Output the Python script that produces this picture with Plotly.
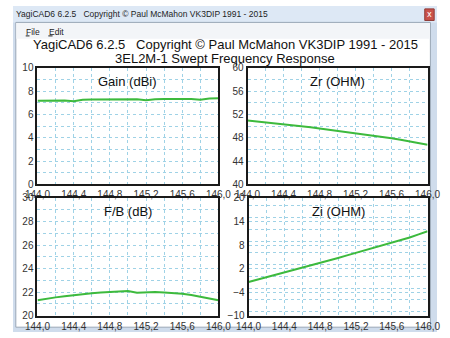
import plotly.graph_objects as go

W, H = 450, 338

freq = [144.0, 144.1, 144.2, 144.3, 144.4, 144.5, 144.6, 144.7, 144.8, 144.9, 145.0,
        145.1, 145.2, 145.3, 145.4, 145.5, 145.6, 145.7, 145.8, 145.9, 146.0]
gain = [7.18, 7.19, 7.2, 7.2, 7.12, 7.26, 7.27, 7.28, 7.28, 7.28, 7.29,
        7.29, 7.22, 7.3, 7.31, 7.31, 7.32, 7.33, 7.26, 7.36, 7.38]
zr = [50.95, 50.8, 50.65, 50.45, 50.3, 50.15, 49.95, 49.8, 49.6, 49.4, 49.2,
      49.0, 48.8, 48.6, 48.35, 48.15, 47.9, 47.65, 47.4, 47.1, 46.8]
fb = [21.3, 21.45, 21.55, 21.65, 21.75, 21.82, 21.9, 21.96, 22.0, 22.03, 22.08,
      21.95, 22.0, 22.0, 21.97, 21.92, 21.85, 21.75, 21.62, 21.47, 21.3]
zi = [-1.45, -0.85, -0.25, 0.35, 0.95, 1.55, 2.15, 2.8, 3.4, 4.05, 4.7,
      5.35, 6.0, 6.6, 7.25, 7.85, 8.5, 9.2, 9.9, 10.7, 11.5]

panel_titles = ["Gain (dBi)", "Zr (OHM)", "F/B (dB)", "Zi (OHM)"]
y_ranges = [(0, 10), (40, 60), (20, 30), (-10, 20)]
y_dticks = [2, 4, 2, 6]
series = [gain, zr, fb, zi]

main_title = "YagiCAD6 6.2.5   Copyright © Paul McMahon VK3DIP 1991 - 2015"
sub_title = "3EL2M-1 Swept Frequency Response"
window_title = "YagiCAD6 6.2.5   Copyright © Paul McMahon VK3DIP 1991 - 2015"
menu_items = ["File", "Edit"]

def px(x):
    return x / W

def py(y):
    return 1 - y / H

# panel pixel boxes (left, right, top, bottom)
boxes = [(26, 218, 64, 185), (249, 440, 64, 185), (26, 218, 199, 321), (250, 440, 199, 321)]

fig = go.Figure()
grid_col = "#9fd2e6"
tick_font = dict(family="Liberation Sans, Arial", size=10, color="#333333")

for i, (vals, title, yr, dt, box) in enumerate(zip(series, panel_titles, y_ranges, y_dticks, boxes)):
    n = "" if i == 0 else str(i + 1)
    fig.add_trace(go.Scatter(x=freq, y=vals, mode="lines",
                             line=dict(color="#3dba3d", width=2),
                             xaxis="x" + n, yaxis="y" + n, showlegend=False,
                             hoverinfo="skip"))
    l, r, t, b = box
    xa = dict(domain=[px(l), px(r)], range=[144.0, 146.0], tick0=144.0, dtick=0.4,
              tickformat=".1f", showgrid=True, gridcolor=grid_col, griddash="dot",
              gridwidth=1, minor=dict(dtick=0.2, showgrid=True, gridcolor=grid_col,
                                      griddash="dot", gridwidth=1),
              showline=True, mirror=True, linecolor="#1a1a1a", linewidth=2,
              ticks="", tickfont=tick_font, zeroline=False,
              anchor="y" + n, fixedrange=True)
    ya = dict(domain=[py(b), py(t)], range=list(yr), tick0=yr[0], dtick=dt,
              showgrid=True, gridcolor=grid_col, griddash="dot", gridwidth=1,
              minor=dict(dtick=dt / 2, showgrid=True, gridcolor=grid_col,
                         griddash="dot", gridwidth=1),
              showline=True, mirror=True, linecolor="#1a1a1a", linewidth=2,
              ticks="", tickfont=tick_font, zeroline=False,
              anchor="x" + n, fixedrange=True)
    fig.layout["xaxis" + n] = xa
    fig.layout["yaxis" + n] = ya
    fig.add_annotation(x=px((l + r) / 2), y=py(t + 14), xref="paper", yref="paper",
                       xanchor="center", yanchor="middle",
                       text=title, showarrow=False,
                       font=dict(family="Liberation Sans, Arial", size=13, color="#111111"))

shapes = [
    # window frame
    dict(type="rect", xref="paper", yref="paper", x0=0, x1=1, y0=0, y1=1,
         fillcolor="#cfdcec", line=dict(width=0), layer="below"),
    # title bar
    dict(type="rect", xref="paper", yref="paper", x0=0, x1=1, y0=py(17), y1=1,
         fillcolor="#dde8f5", line=dict(width=0), layer="below"),
    # client area
    dict(type="rect", xref="paper", yref="paper", x0=px(3), x1=px(443), y0=py(333), y1=py(17),
         fillcolor="#ffffff", line=dict(color="#9aa7b6", width=1), layer="below"),
    # menu bar
    dict(type="rect", xref="paper", yref="paper", x0=px(3.5), x1=px(442.5), y0=py(34), y1=py(17.5),
         fillcolor="#f3f5f8", line=dict(width=0), layer="below"),
    # close button
    dict(type="rect", xref="paper", yref="paper", x0=px(437), x1=px(447), y0=py(15), y1=py(3),
         fillcolor="#c9524a", line=dict(color="#8e3a36", width=1), layer="below"),
    # menu mnemonic underlines
    dict(type="line", xref="paper", yref="paper", x0=px(13.5), x1=px(17.5), y0=py(31), y1=py(31),
         line=dict(color="#1e1e1e", width=1)),
    dict(type="line", xref="paper", yref="paper", x0=px(37.5), x1=px(42), y0=py(31), y1=py(31),
         line=dict(color="#1e1e1e", width=1)),
]
fig.update_layout(shapes=shapes)

def note(x, y, text, size, family, color="#1e1e1e", xanchor="center"):
    fig.add_annotation(x=x, y=y, xref="paper", yref="paper", xanchor=xanchor,
                       yanchor="middle", text=text, showarrow=False,
                       font=dict(family=family, size=size, color=color))

note(px(1), py(8), window_title, 8.5, "Liberation Sans, Arial", xanchor="left")
note(px(442), py(9), "x", 8, "DejaVu Sans", color="#ffffff")
note(px(12), py(26.5), menu_items[0], 8.5, "Liberation Sans, Arial", xanchor="left")
note(px(36), py(26.5), menu_items[1], 8.5, "Liberation Sans, Arial", xanchor="left")
note(0.5, py(39.5), main_title, 13, "Liberation Sans, Arial", color="#111111")
note(0.5, py(54.5), sub_title, 13, "Liberation Sans, Arial", color="#111111")

fig.update_layout(width=W, height=H, margin=dict(l=0, r=0, t=0, b=0),
                  paper_bgcolor="#ffffff", plot_bgcolor="#ffffff",
                  separators=", ", showlegend=False)

fig.write_html("out.html", config={"displayModeBar": False})
